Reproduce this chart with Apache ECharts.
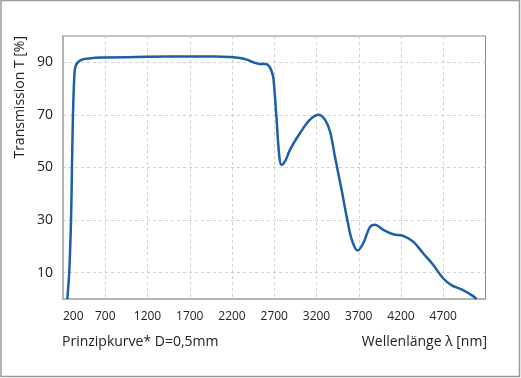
<!DOCTYPE html>
<html>
	<head>
		<meta charset="UTF-8">
		<title>Transmission</title>
		<script src="https://cdn.jsdelivr.net/npm/echarts@6/dist/echarts.min.js"></script>
		<style>
			html, body { margin: 0; padding: 0; background: #fff; }
		</style>
	</head>
	<body>
		<div id="main" style="width: 521px;height:378px;"></div>
		<script>
			// Wellenlänge [nm] und Transmission [%]
			var wavelength = [251, 274, 295, 306, 318, 334, 349, 389, 460, 578, 700, 1200, 1700, 2000, 2178, 2296, 2375, 2450, 2530, 2600, 2640, 2670, 2690, 2725, 2760, 2785, 2830, 2887, 3005, 3123, 3222, 3300, 3360, 3418, 3497, 3565, 3618, 3687, 3753, 3832, 3891, 3990, 4108, 4226, 4344, 4462, 4580, 4698, 4796, 4935, 5054, 5093];
			var transmission = [0, 10.4, 30, 49.8, 70, 84.7, 88.5, 90.4, 91.3, 91.7, 91.8, 92.1, 92.2, 92.2, 92.0, 91.6, 91.0, 90.0, 89.4, 89.4, 88.5, 86.5, 84.0, 69.5, 54.2, 51.0, 52.5, 56.8, 63.1, 68.2, 70.1, 68.2, 63.7, 54.2, 41.5, 30.0, 22.5, 18.4, 21.2, 27.3, 28.2, 26.3, 24.6, 24.0, 21.8, 17.4, 13.0, 7.9, 5.3, 3.4, 1.1, 0];
			var xTicks = [200, 700, 1200, 1700, 2200, 2700, 3200, 3700, 4200, 4700];
			var yTicks = [10, 30, 50, 70, 90];

			var points = wavelength.map(function (w, i) { return [w, transmission[i]]; });

			var myChart = echarts.init(document.getElementById('main'));
			var textColor = '#222';
			var font = 'Open Sans';
			option = {
				animation: false,
				grid: {
					left: 63,
					right: 35.5,
					top: 36,
					bottom: 79,
					show: true,
					borderColor: '#888',
					borderWidth: 1
				},
				xAxis: {
					type: 'value',
					min: 200,
					max: 5200,
					axisLine: { show: true, onZero: false, lineStyle: { color: '#b4b4b4', width: 2 } },
					axisTick: { show: false, customValues: xTicks },
					axisLabel: {
						customValues: xTicks,
						formatter: function (v) { return String(v); },
						color: textColor,
						fontFamily: font,
						fontSize: 12,
						margin: 12,
						alignMinLabel: 'left'
					},
					splitLine: { show: true, lineStyle: { color: '#d0d0d0', type: [3, 3], width: 1 } }
				},
				yAxis: {
					type: 'value',
					min: 0,
					max: 100,
					axisLine: { show: true, lineStyle: { color: '#b4b4b4', width: 2 } },
					axisTick: { show: false, customValues: yTicks },
					axisLabel: {
						customValues: yTicks,
						color: textColor,
						fontFamily: font,
						fontSize: 14,
						margin: 10
					},
					splitLine: { show: true, lineStyle: { color: '#d0d0d0', type: [3, 3], width: 1 } }
				},
				graphic: [
					{
						type: 'rect',
						shape: { x: 1, y: 0.5, width: 518.5, height: 376 },
						style: { fill: 'none', stroke: '#9a9a9a', lineWidth: 1.5 },
						silent: true
					},
					{
						type: 'text',
						x: 20,
						y: 36,
						rotation: Math.PI / 2,
						style: {
							text: 'Transmission T [%]',
							fill: textColor,
							font: '14px "Open Sans"',
							align: 'right',
							verticalAlign: 'middle'
						}
					},
					{
						type: 'text',
						x: 62,
						y: 342,
						style: {
							text: 'Prinzipkurve* D=0,5mm',
							fill: textColor,
							font: '14px "Open Sans"',
							align: 'left',
							verticalAlign: 'middle'
						}
					},
					{
						type: 'text',
						x: 487,
						y: 342,
						style: {
							text: 'Wellenlänge λ [nm]',
							fill: textColor,
							font: '14px "Open Sans"',
							align: 'right',
							verticalAlign: 'middle'
						}
					}
				],
				series: [{
					type: 'line',
					data: points,
					smooth: 0.35,
					showSymbol: false,
					lineStyle: { color: '#1d5fa6', width: 2.5 }
				}]
			};
			myChart.setOption(option);
		</script>
	</body>
</html>
